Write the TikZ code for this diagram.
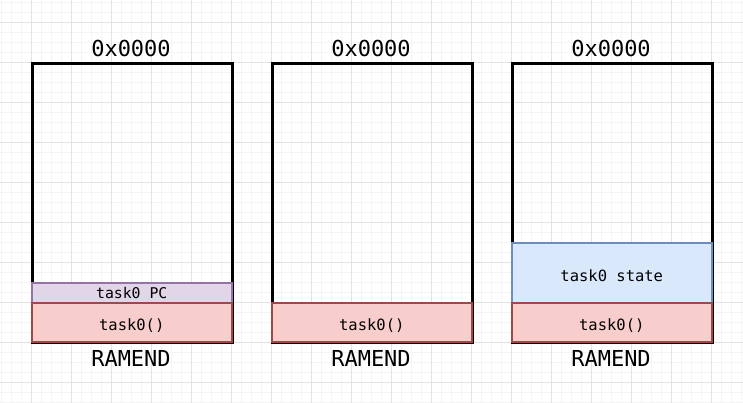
\documentclass[tikz,border=0pt]{standalone}
\usepackage{fontspec}
\setmonofont{DejaVu Sans Mono}
\definecolor{gridminor}{HTML}{F4F4F4}
\definecolor{gridmajor}{HTML}{E3E3E3}
\definecolor{pfill}{HTML}{E1D5E7}
\definecolor{pline}{HTML}{9673A6}
\definecolor{rfill}{HTML}{F8CECC}
\definecolor{rline}{HTML}{A04848}
\definecolor{bfill}{HTML}{DAE8FC}
\definecolor{bline}{HTML}{6C8EBF}
\tikzset{
  mem/.style={draw=black, line width=3pt, anchor=north west, inner sep=0pt, minimum width=200pt, minimum height=279pt},
  cell/.style={anchor=north west, inner sep=0pt, minimum width=200pt, line width=1.5pt},
  celltext/.style={font=\ttfamily\fontsize{15.5}{18}\selectfont, inner sep=0pt, yshift=-3pt},
  redcell/.style={cell, draw=rline, fill=rfill, minimum height=39pt},
  purcell/.style={cell, draw=pline, fill=pfill, minimum height=20pt, font=\ttfamily\fontsize{14.8}{17}\selectfont},
  bluecell/.style={cell, draw=bline, fill=bfill, minimum height=60pt},
  biglabel/.style={font=\ttfamily\fontsize{22}{26}\selectfont, inner sep=0pt}
}
\begin{document}
\begin{tikzpicture}[x=1pt,y=-1pt]
\useasboundingbox (0,0) rectangle (743,403);
\fill[white] (0,0) rectangle (743,403);
% grid
\foreach \x in {1,11,...,741} \draw[gridminor, line width=0.8pt] (\x,0) -- (\x,403);
\foreach \y in {2,12,...,402} \draw[gridminor, line width=0.8pt] (0,\y) -- (743,\y);
\foreach \x in {31,71,...,711} \draw[gridmajor, line width=0.8pt] (\x,0) -- (\x,403);
\foreach \y in {22,62,...,382} \draw[gridmajor, line width=0.8pt] (0,\y) -- (743,\y);

% left column
\node[mem] (m1) at (31,62) {};
\node[purcell] (pc1) at (31,282) {task0 PC};
\node[redcell, label={[celltext]center:task0()}] (t1) at (31,302) {};
\node[biglabel] (top1) at (131,48) {0x0000};
\node[biglabel] (bot1) at (131,358) {RAMEND};

% middle column
\node[mem] (m2) at (271,62) {};
\node[redcell, label={[celltext]center:task0()}] (t2) at (271,302) {};
\node[biglabel] (top2) at (371,48) {0x0000};
\node[biglabel] (bot2) at (371,358) {RAMEND};

% right column
\node[mem] (m3) at (511,62) {};
\node[bluecell, label={[celltext]center:task0 state}] (s3) at (511,242) {};
\node[redcell, label={[celltext]center:task0()}] (t3) at (511,302) {};
\node[biglabel] (top3) at (611,48) {0x0000};
\node[biglabel] (bot3) at (611,358) {RAMEND};
\end{tikzpicture}
\end{document}
